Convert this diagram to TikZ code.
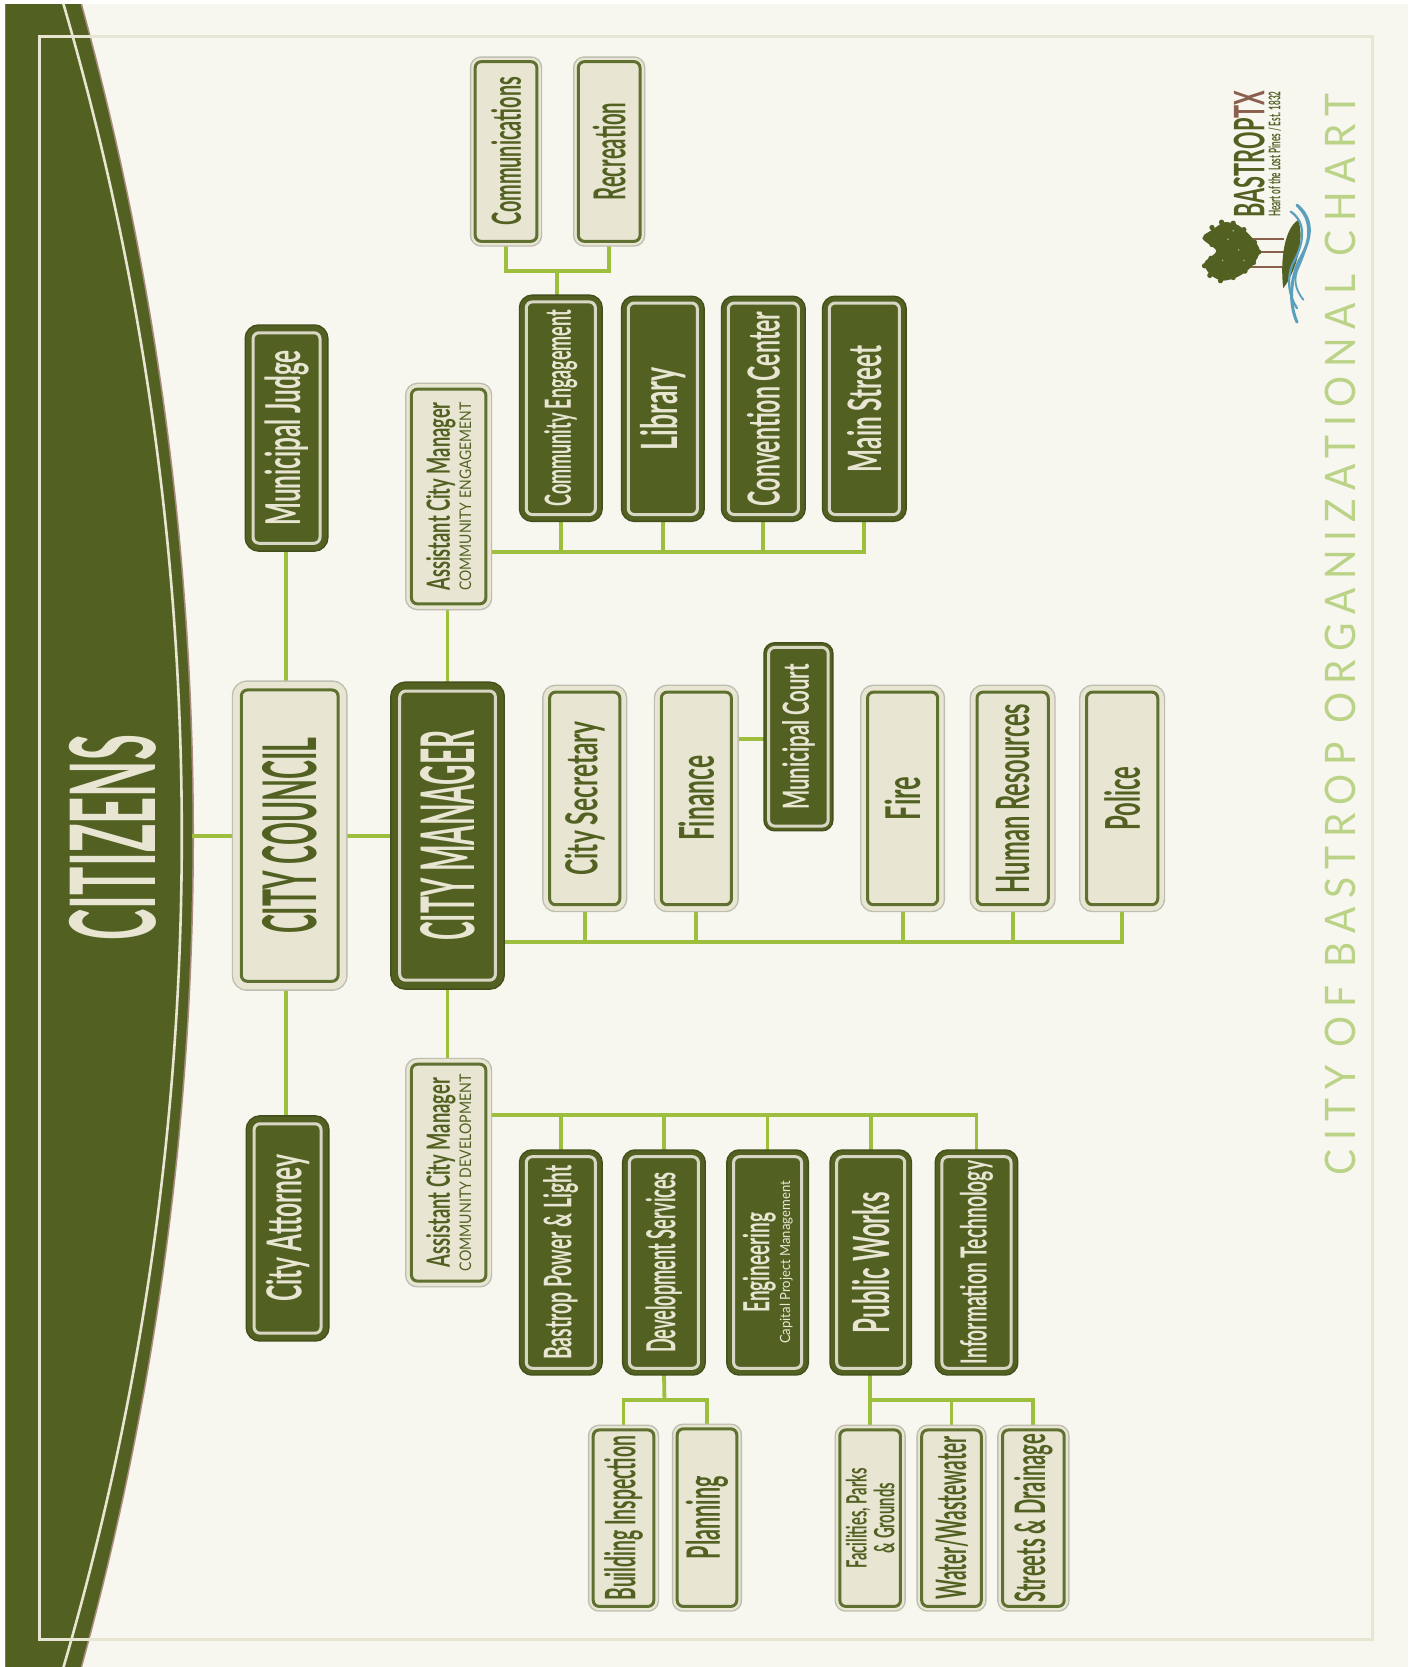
\documentclass[tikz,border=0pt]{standalone}
\usepackage{fontspec}
\usepackage{graphicx}
\usetikzlibrary{backgrounds}
\setmainfont{Lato}
\definecolor{paper}{HTML}{F7F6EF}
\definecolor{frameC}{HTML}{E8E6D2}
\definecolor{olive}{HTML}{526122}
\definecolor{rimline}{HTML}{5F7030}
\definecolor{cream}{HTML}{E8E6D2}
\definecolor{haloC}{HTML}{BDBDB0}
\definecolor{lime}{HTML}{9DBF3D}
\definecolor{titleC}{HTML}{BBD386}
\definecolor{barkC}{HTML}{8A5F4E}
\definecolor{waterC}{HTML}{5B9FBF}
\newlength\un \setlength\un{0.5316pt}
\newcommand\lab[3]{\resizebox{#2\un}{\height}{\fontsize{#1pt}{#1pt}\selectfont\bfseries #3}}
\newcommand\labn[3]{\resizebox{#2\un}{\height}{\fontsize{#1pt}{#1pt}\selectfont #3}}
\tikzset{
  darkbox/.style={draw=cream!85!gray,line width=1.5pt,fill=olive,text=cream,rounded corners=3pt,inner sep=0pt,
    preaction={draw=olive!80!black,line width=\halow pt},preaction={draw=olive,line width=\rimw pt}},
  lightbox/.style={draw=rimline,line width=1.5pt,fill=cream,text=olive,rounded corners=3pt,inner sep=0pt,
    preaction={draw=haloC,line width=\halow pt},preaction={draw=cream,line width=\rimw pt}},
  conn/.style={draw=lime,line width=1.9pt}
}
\newcommand\obox[8]{%
  \pgfmathsetmacro\bx{(#3+#5)/2}\pgfmathsetmacro\by{(#4+#6)/2}%
  \pgfmathsetmacro\bw{#5-#3-2*#7}\pgfmathsetmacro\bh{#6-#4-2*#7}%
  \pgfmathsetmacro\rimw{2*#7*0.5316-1.4}\pgfmathsetmacro\halow{2*#7*0.5316}%
  \node[#2,minimum width=\bw\un,minimum height=\bh\un] (#1) at (\bx,\by) {\rotatebox{90}{#8}};}
\begin{document}
\begin{tikzpicture}[x=0.5316pt,y=-0.5316pt]
\useasboundingbox (0,0) rectangle (1331,1568);
\begin{pgfonlayer}{background}
\fill[white] (0,0) rectangle (1331,1568);
\fill[paper] (5,4) rectangle (1324,1568);
\begin{scope}
  \clip (5,4) rectangle (1324,1568);
  \fill[barkC!70!paper] (-2756.5,786) circle (2939);
  \fill[olive] (-2756.5,786) circle (2937.5);
\end{scope}
\draw[frameC,line width=1.5pt] (37,34) rectangle (1291,1542);
\begin{scope}
  \clip (5,4) rectangle (1324,1568);
  \draw[frameC,line width=1.3pt] (-2615,786) circle (2786);
\end{scope}
\end{pgfonlayer}
\coordinate (arcedge) at (181,786);

\node[text=cream,inner sep=0pt] (citizens) at (106,788) {\rotatebox{90}{\lab{59}{193}{CITIZENS}}};
\node[text=titleC,inner sep=0pt] (title) at (1261,597) {\rotatebox{90}{\resizebox{1017\un}{\height}{\fontsize{21pt}{21pt}\selectfont\addfontfeature{LetterSpace=22}CITY OF BASTROP ORGANIZATIONAL CHART}}};

% logo
\node[inner sep=0pt,text=olive] (logoname) at (1175,145) {\rotatebox{90}{\resizebox{119\un}{\height}{\fontsize{21pt}{21pt}\selectfont\bfseries BASTROP\textcolor{barkC}{TX}}}};
\node[inner sep=0pt,text=olive] (logotag) at (1199,145) {\rotatebox{90}{\lab{8}{118}{Heart of the Lost Pines / Est. 1832}}};
\foreach \yy in {225,237,251} \draw[barkC,line width=1.2pt] (1175,\yy) -- (1208,\yy);
\fill[olive] plot[smooth cycle] coordinates {(1142,215)(1152,209)(1165,212)(1178,224)(1185,236)(1178,250)(1165,260)(1150,264)(1138,258)(1133,247)(1144,236)(1131,224)};
\foreach \a/\b in {1135/222,1140/214,1149/209,1160/210,1170/216,1180/228,1184/237,1179/247,1171/255,1160/261,1148/264,1138/259,1133/250,1139/243,1140/230}
  \fill[olive] (\a,\b) circle (2.5);
\foreach \a/\b in {1155/225,1165/235,1150/245,1170/245,1160/217}
  \fill[paper!60!olive] (\a,\b) circle (0.8);
\fill[olive] (1221,207) .. controls (1208,215) and (1204,245) .. (1207,271) .. controls (1218,258) and (1228,225) .. (1221,207) -- cycle;
\draw[waterC,line width=1.5pt,line cap=round] (1220,193) .. controls (1238,208) and (1232,228) .. (1222,245) .. controls (1214,262) and (1212,285) .. (1220,303);
\draw[waterC,line width=1.1pt,line cap=round] (1214,199) .. controls (1230,210) and (1226,230) .. (1216,248) .. controls (1210,262) and (1212,278) .. (1220,290);
\draw[waterC,line width=0.9pt,line cap=round] (1222,196) .. controls (1236,210) and (1230,232) .. (1222,250) .. controls (1216,262) and (1218,272) .. (1226,282);

% top level
\obox{judge}{darkbox}{230}{305}{309}{519}{8}{\lab{24}{165}{Municipal Judge}}
\obox{attorney}{darkbox}{231}{1049}{310}{1262}{8}{\lab{24}{138}{City Attorney}}
\obox{council}{lightbox}{218}{640}{327}{932}{9}{\lab{37}{185}{CITY COUNCIL}}
\obox{manager}{darkbox}{367}{641}{475}{931}{9}{\lab{37}{198}{CITY MANAGER}}
\obox{acme}{lightbox}{381}{360}{463}{574}{6}{\shortstack[c]{\lab{16}{177}{Assistant City Manager}\\[-1pt]\labn{8}{177}{COMMUNITY ENGAGEMENT}}}
\obox{acmd}{lightbox}{381}{995}{463}{1211}{6}{\shortstack[c]{\lab{16}{178}{Assistant City Manager}\\[-1pt]\labn{8}{185}{COMMUNITY DEVELOPMENT}}}

% engagement
\obox{comms}{lightbox}{442}{53}{510}{232}{5}{\lab{20}{140}{Communications}}
\obox{recre}{lightbox}{539}{53}{607}{232}{5}{\lab{22}{92}{Recreation}}
\obox{engage}{darkbox}{488}{277}{567}{491}{7}{\lab{18}{185}{Community Engagement}}
\obox{library}{darkbox}{584}{278}{663}{491}{7}{\lab{25}{78}{Library}}
\obox{convent}{darkbox}{678}{278}{758}{491}{7}{\lab{22}{183}{Convention Center}}
\obox{mainst}{darkbox}{773}{278}{853}{491}{7}{\lab{23}{119}{Main Street}}

% manager reports
\obox{secretary}{lightbox}{510}{644}{590}{858}{7}{\lab{22}{145}{City Secretary}}
\obox{finance}{lightbox}{615}{644}{695}{858}{7}{\lab{24}{80}{Finance}}
\obox{court}{darkbox}{718}{604}{784}{782}{5}{\lab{18}{137}{Municipal Court}}
\obox{fire}{lightbox}{809}{644}{889}{858}{7}{\lab{24}{41}{Fire}}
\obox{hr}{lightbox}{912}{644}{993}{858}{7}{\lab{23}{178}{Human Resources}}
\obox{police}{lightbox}{1015}{644}{1096}{858}{7}{\lab{24}{60}{Police}}

% development
\obox{power}{darkbox}{488}{1081}{567}{1294}{7}{\lab{19}{183}{Bastrop Power \& Light}}
\obox{devserv}{darkbox}{585}{1081}{664}{1294}{7}{\lab{20}{170}{Development Services}}
\obox{engin}{darkbox}{683}{1081}{761}{1294}{7}{\shortstack[c]{\lab{18}{94}{Engineering}\\[-1pt]\labn{7}{153}{Capital Project Management}}}
\obox{pworks}{darkbox}{780}{1081}{858}{1294}{7}{\lab{25}{133}{Public Works}}
\obox{infotech}{darkbox}{879}{1081}{958}{1294}{7}{\lab{18}{191}{Information Technology}}
\obox{building}{lightbox}{553}{1340}{620}{1516}{5}{\lab{21}{155}{Building Inspection}}
\obox{planning}{lightbox}{632}{1339}{698}{1516}{5}{\lab{23}{78}{Planning}}
\obox{facil}{lightbox}{785}{1340}{852}{1516}{5}{\shortstack[c]{\lab{14}{94}{Facilities, Parks}\\[-1.5pt]\lab{14}{66}{\& Grounds}}}
\obox{water}{lightbox}{862}{1340}{928}{1516}{5}{\lab{21}{153}{Water/Wastewater}}
\obox{streets}{lightbox}{938}{1340}{1006}{1516}{5}{\lab{21}{158}{Streets \& Drainage}}

\coordinate (ceb) at (463,519);
\coordinate (cdb) at (463,1049);
\coordinate (mgb) at (475,886);
\coordinate (comb) at (524,255);
\coordinate (devb) at (625,1317);
\coordinate (pwb) at (818,1317);
\coordinate (finb) at (695,695);
\coordinate (cvl) at (269,786);
\coordinate (mvl) at (421,786);

\begin{pgfonlayer}{background}
\draw[conn] (arcedge) -- (council.west);
\draw[conn] (council.east) -- (manager.west);
\draw[conn] (cvl |- council.north) -- (cvl |- judge.south);
\draw[conn] (cvl |- council.south) -- (cvl |- attorney.north);
\draw[conn] (mvl |- manager.north) -- (mvl |- acme.south);
\draw[conn] (mvl |- manager.south) -- (mvl |- acmd.north);
% engagement bus
\draw[conn] (ceb) -- (ceb -| mainst.south) -- (mainst.south);
\foreach \n in {engage,library,convent} \draw[conn] (ceb -| \n.south) -- (\n.south);
\draw[conn] (comb) -- (comb |- engage.north);
\draw[conn] (comms.south) -- (comms.south |- comb) -- (recre.south |- comb) -- (recre.south);
% manager bus
\draw[conn] (mgb) -- (mgb -| police.south) -- (police.south);
\foreach \n in {secretary,finance,fire,hr} \draw[conn] (mgb -| \n.south) -- (\n.south);
\draw[conn] (finb) -- (finb -| court.west);
% development bus
\draw[conn] (cdb) -- (cdb -| infotech.north) -- (infotech.north);
\foreach \n in {power,devserv,engin,pworks} \draw[conn] (cdb -| \n.north) -- (\n.north);
\draw[conn] (devserv.south) -- (devb);
\draw[conn] (building.north) -- (building.north |- devb) -- (planning.north |- devb) -- (planning.north);
\draw[conn] (pwb |- pworks.south) -- (pwb) -- (pwb -| streets.north) -- (streets.north);
\draw[conn] (pwb) -- (pwb |- facil.north);
\draw[conn] (pwb -| water.north) -- (water.north);
\end{pgfonlayer}
\end{tikzpicture}
\end{document}
